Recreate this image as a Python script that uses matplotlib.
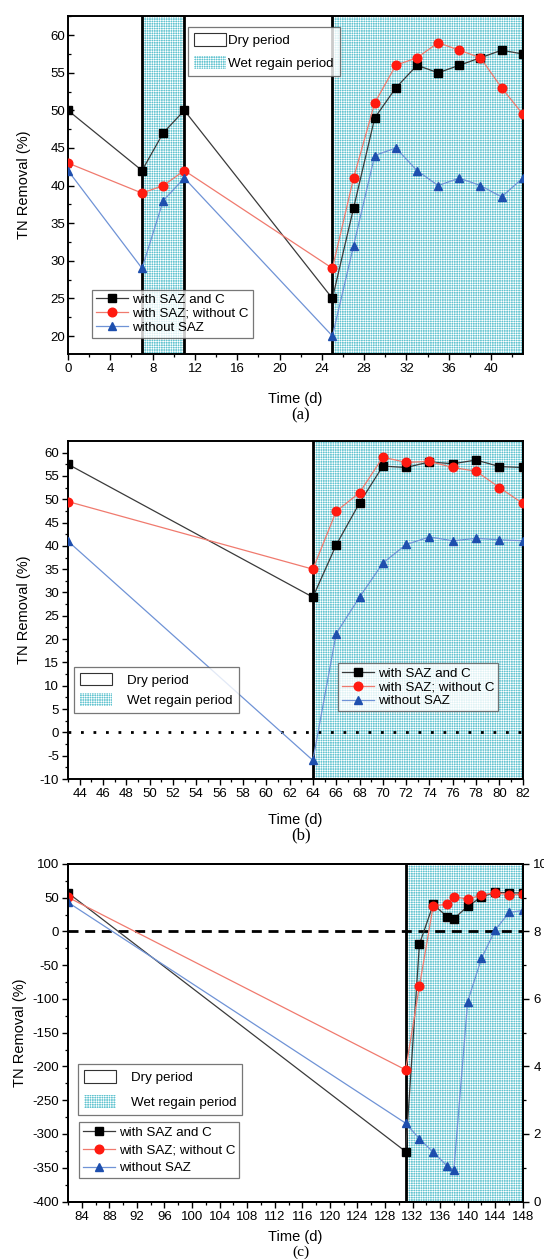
import matplotlib
matplotlib.use("Agg")
import matplotlib.pyplot as plt
from matplotlib.patches import Patch
from matplotlib.lines import Line2D
from matplotlib.ticker import MultipleLocator

plt.rcParams['font.family'] = ['Liberation Sans', 'DejaVu Sans']
plt.rcParams['hatch.linewidth'] = 0.45
plt.rcParams['hatch.color'] = 'white'
plt.rcParams['axes.unicode_minus'] = False

# ---------------- data ----------------
series_names = ["with SAZ and C", "with SAZ; without C", "without SAZ"]

# panel (a)
a_days = [0, 7, 9, 11, 25, 27, 29, 31, 33, 35, 37, 39, 41, 43]
a_saz_c = [50, 42, 47, 50, 25, 37, 49, 53, 56, 55, 56, 57, 58, 57.5]
a_saz_noc = [43, 39, 40, 42, 29, 41, 51, 56, 57, 59, 58, 57, 53, 49.5]
a_no_saz = [42, 29, 38, 41, 20, 32, 44, 45, 42, 40, 41, 40, 38.5, 41]
a_wet = [(7, 11), (25, 43)]

# panel (b)
b_days = [43, 64, 66, 68, 70, 72, 74, 76, 78, 80, 82]
b_saz_c = [57.5, 29, 40.2, 49.2, 57.1, 56.8, 58, 57.6, 58.4, 57, 56.8]
b_saz_noc = [49.5, 35, 47.4, 51.4, 59, 57.9, 58.1, 56.8, 56, 52.5, 49.1]
b_no_saz = [41, -6, 21.2, 29, 36.3, 40.3, 41.9, 41.1, 41.6, 41.3, 41.1]
b_wet = [(64, 82)]

# panel (c)
c_days = [82, 131, 133, 135, 137, 138, 140, 142, 144, 146, 148]
c_saz_c = [57, -326, -19, 40, 22, 19, 37, 51, 58, 57, 57]
c_saz_noc = [50.5, -205, -81, 38, 40, 51.5, 47.5, 54, 57.5, 54, 55]
c_no_saz = [43, -284, -307, -327, -347, -353, -104, -40, 2, 28, 31]
c_wet = [(131, 148)]

# ---------------- styles ----------------
WET_FACE = '#62c4d0'
HATCH = '+++++++'
TICK_FS = 9.5
LEG_FS = 9.6
LAB_FS = 10.5
styles = [
    dict(color='#3a3a3a', marker='s', mfc='black', mec='black', ms=5.2),
    dict(color='#f07a6e', marker='o', mfc='#ff1a10', mec='#ff1a10', ms=6.2),
    dict(color='#6f93d6', marker='^', mfc='#1e4fae', mec='#1e4fae', ms=6.2),
]

fig = plt.figure(figsize=(5.44, 12.6), dpi=100)

W = 0.836
L = 0.125
H = 0.268
ax_a = fig.add_axes([L, 0.719, W, H])
ax_b = fig.add_axes([L, 0.3817, W, H])
ax_c = fig.add_axes([L, 0.0464, W, H])


def draw_wet(ax, spans):
    for x0, x1 in spans:
        ax.axvspan(x0, x1, facecolor=WET_FACE, edgecolor='white', hatch=HATCH,
                   linewidth=0, zorder=0)
        ax.axvline(x0, color='black', lw=2.0, zorder=1)
        ax.axvline(x1, color='black', lw=2.0, zorder=1)


def draw_series(ax, days, ys_list):
    for ys, st in zip(ys_list, styles):
        ax.plot(days, ys, lw=0.9, zorder=3, **st)


def style_axis(ax, ydir, xpad=10, ypad=4):
    for s in ax.spines.values():
        s.set_linewidth(1.4)
    ax.tick_params(axis='x', which='both', direction='out', labelsize=TICK_FS, pad=2)
    ax.tick_params(axis='y', which='both', direction=ydir, labelsize=TICK_FS, pad=2)
    ax.tick_params(which='major', length=4.5, width=1.0)
    ax.tick_params(which='minor', length=2.5, width=0.9)
    ax.set_xlabel('Time (d)', fontsize=LAB_FS, labelpad=xpad)
    ax.set_ylabel('TN Removal (%)', fontsize=LAB_FS, labelpad=ypad)


def series_legend(ax, anchor, spacing=0.12):
    handles = [Line2D([], [], lw=0.9, **st) for st in styles]
    leg = ax.legend(handles, series_names, loc='upper left', bbox_to_anchor=anchor,
                    fontsize=LEG_FS, frameon=True, fancybox=False, edgecolor='#555555',
                    handlelength=2.4, handletextpad=0.3, borderpad=0.3,
                    labelspacing=spacing, borderaxespad=0)
    leg.get_frame().set_linewidth(0.9)
    leg.set_zorder(5)
    return leg


def period_legend(ax, anchor, textpad=1.0, spacing=0.6):
    handles = [Patch(facecolor='white', edgecolor='#333333', lw=0.8),
               Patch(facecolor=WET_FACE, edgecolor='white', hatch=HATCH, lw=0)]
    leg = ax.legend(handles, ['Dry period', 'Wet regain period'], loc='upper left',
                    bbox_to_anchor=anchor, fontsize=LEG_FS, frameon=True, fancybox=False,
                    edgecolor='#555555', handlelength=2.4, handleheight=1.1,
                    handletextpad=textpad, borderpad=0.45, labelspacing=spacing,
                    borderaxespad=0)
    leg.get_frame().set_linewidth(0.9)
    leg.set_zorder(5)
    return leg


# ---------------- panel (a) ----------------
draw_wet(ax_a, a_wet)
draw_series(ax_a, a_days, [a_saz_c, a_saz_noc, a_no_saz])
ax_a.set_xlim(0, 43)
ax_a.set_ylim(17.6, 62.5)
ax_a.xaxis.set_major_locator(MultipleLocator(4))
ax_a.xaxis.set_minor_locator(MultipleLocator(2))
ax_a.yaxis.set_major_locator(MultipleLocator(5))
ax_a.yaxis.set_minor_locator(MultipleLocator(2.5))
style_axis(ax_a, 'in', xpad=12, ypad=14)
la1 = series_legend(ax_a, (0.053, 0.191))
ax_a.add_artist(la1)
period_legend(ax_a, (0.263, 0.968), textpad=0.2, spacing=0.65)

# ---------------- panel (b) ----------------
draw_wet(ax_b, b_wet)
ax_b.axhline(0, color='black', lw=2.0, ls=(0, (1, 3.5)), zorder=2)
draw_series(ax_b, b_days, [b_saz_c, b_saz_noc, b_no_saz])
ax_b.set_xlim(43, 82)
ax_b.set_ylim(-10, 62.4)
ax_b.xaxis.set_major_locator(MultipleLocator(2))
ax_b.xaxis.set_minor_locator(MultipleLocator(1))
ax_b.yaxis.set_major_locator(MultipleLocator(5))
ax_b.yaxis.set_minor_locator(MultipleLocator(2.5))
style_axis(ax_b, 'out', xpad=9, ypad=6)
lb1 = series_legend(ax_b, (0.593, 0.343))
ax_b.add_artist(lb1)
period_legend(ax_b, (0.014, 0.333), textpad=1.1, spacing=0.5)

# ---------------- panel (c) ----------------
draw_wet(ax_c, c_wet)
ax_c.axhline(0, color='black', lw=2.0, ls=(0, (3.6, 2.4)), zorder=2)
draw_series(ax_c, c_days, [c_saz_c, c_saz_noc, c_no_saz])
ax_c.set_xlim(82, 148)
ax_c.set_ylim(-400, 100)
ax_c.xaxis.set_major_locator(MultipleLocator(4))
ax_c.xaxis.set_minor_locator(MultipleLocator(2))
ax_c.yaxis.set_major_locator(MultipleLocator(50))
ax_c.yaxis.set_minor_locator(MultipleLocator(25))
style_axis(ax_c, 'out', xpad=5, ypad=4)
ax_c.tick_params(axis='y', which='both', right=False)
lc1 = series_legend(ax_c, (0.024, 0.235), spacing=0.42)
ax_c.add_artist(lc1)
period_legend(ax_c, (0.022, 0.407), textpad=1.1, spacing=0.8)

ax_c2 = ax_c.twinx()
ax_c2.set_ylim(0, 10)
ax_c2.yaxis.set_major_locator(MultipleLocator(2))
ax_c2.yaxis.set_minor_locator(MultipleLocator(1))
ax_c2.tick_params(axis='y', which='both', direction='out', labelsize=TICK_FS, pad=3)
ax_c2.tick_params(which='major', length=4.5, width=1.0)
ax_c2.tick_params(which='minor', length=2.5, width=0.9)
for s in ax_c2.spines.values():
    s.set_linewidth(1.4)

# panel captions (pixel offsets below each axes bottom)
for ax, lab, off, fs in [(ax_a, '(a)', 61, 12), (ax_b, '(b)', 56, 12), (ax_c, '(c)', 51, 11)]:
    pos = ax.get_position()
    fig.text(pos.x0 + pos.width * 0.5 + 0.01, pos.y0 - off / 1260, lab,
             ha='center', va='center', fontsize=fs, family='Liberation Serif')

fig.savefig('out.png', dpi=100)
